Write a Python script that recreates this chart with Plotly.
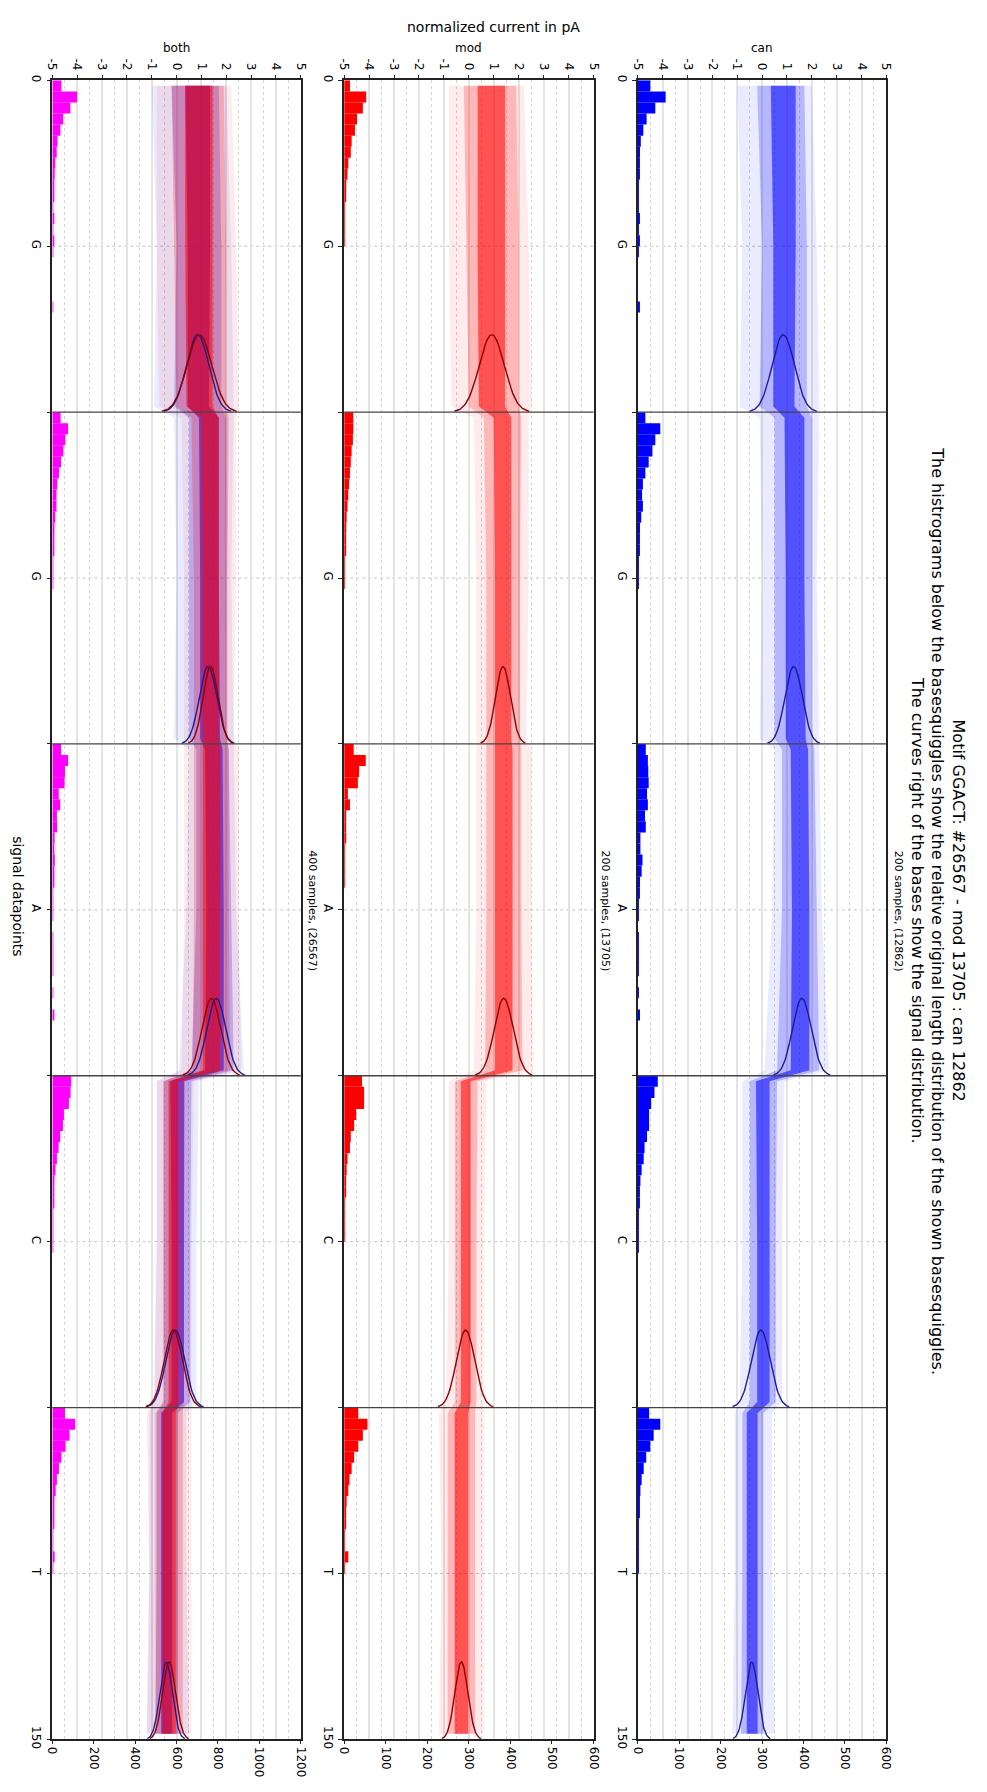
import numpy as np
import plotly.graph_objects as go

W, H = 987, 1792

# ---------------- data ----------------
bases = ["G", "G", "A", "C", "T"]
seg_len = 30
n_points = 150
panel_names = ["can", "mod", "both"]
panel_titles = ["200 samples, (12862)", "200 samples, (13705)", "400 samples, (26567)"]
title_lines = [
    "Motif GGACT: #26567 - mod 13705 : can 12862",
    "The histrograms below the basesquiggles show the relative original length distribution of the shown basesquiggles.",
    "The curves right of the bases show the signal distribution.",
]
x_ticks_current = [-5, -4, -3, -2, -1, 0, 1, 2, 3, 4, 5]
hist_ticks_single = [0, 100, 200, 300, 400, 500, 600]
hist_ticks_both = [0, 200, 400, 600, 800, 1000, 1200]

# squiggle band positions (signal datapoints): start, middle, end of each base
band_pos = [0.5, 15, 29.5, 30.5, 45, 59.5, 60.5, 75, 89.5, 90.5, 105, 119.5, 120.5, 135, 149.5]

can_outer_lo = [-1.0, -0.8, -0.9, -0.1, 0.0, -0.1, 0.5, 0.4, 0.1, -0.8, -0.8, -0.9, -1.1, -1.1, -1.2]
can_outer_hi = [2.0, 2.2, 2.3, 2.3, 2.2, 2.3, 2.3, 2.4, 2.7, 0.9, 0.8, 0.8, 0.4, 0.4, 0.5]
can_mid_lo = [-0.2, 0.0, -0.1, 0.5, 0.5, 0.5, 0.8, 0.8, 0.6, -0.5, -0.5, -0.5, -0.8, -0.8, -0.85]
can_mid_hi = [1.7, 1.8, 1.8, 2.0, 2.0, 2.0, 2.1, 2.2, 2.3, 0.6, 0.55, 0.55, 0.05, 0.05, 0.05]
can_core_lo = [0.35, 0.45, 0.45, 0.9, 0.95, 0.95, 1.15, 1.2, 1.15, -0.25, -0.2, -0.2, -0.62, -0.62, -0.62]
can_core_hi = [1.35, 1.35, 1.3, 1.7, 1.7, 1.75, 1.85, 1.9, 1.9, 0.3, 0.3, 0.3, -0.18, -0.18, -0.18]

mod_outer_lo = [-0.8, -0.8, -0.7, 0.2, 0.3, 0.3, 0.3, 0.3, 0.2, -0.8, -0.8, -0.9, -1.2, -1.1, -1.2]
mod_outer_hi = [2.2, 2.4, 2.5, 2.4, 2.4, 2.3, 2.5, 2.5, 2.6, 0.7, 0.6, 0.6, 0.6, 0.6, 0.6]
mod_mid_lo = [-0.2, -0.1, 0.0, 0.6, 0.7, 0.7, 0.7, 0.7, 0.65, -0.55, -0.55, -0.55, -0.85, -0.85, -0.85]
mod_mid_hi = [1.9, 2.0, 2.0, 2.1, 2.05, 2.05, 2.1, 2.1, 2.15, 0.35, 0.3, 0.3, 0.25, 0.25, 0.25]
mod_core_lo = [0.35, 0.35, 0.4, 1.0, 1.05, 1.05, 1.05, 1.05, 1.05, -0.32, -0.32, -0.32, -0.57, -0.57, -0.57]
mod_core_hi = [1.45, 1.45, 1.45, 1.7, 1.7, 1.7, 1.75, 1.75, 1.75, 0.07, 0.07, 0.07, -0.03, -0.03, -0.03]

# signal distribution per base (mean, std of normalized current)
can_mu = [0.85, 1.27, 1.6, -0.05, -0.42]
can_sd = [0.45, 0.35, 0.38, 0.38, 0.25]
mod_mu = [0.92, 1.37, 1.4, -0.13, -0.3]
mod_sd = [0.5, 0.3, 0.38, 0.37, 0.26]

# original length histogram counts, per base, from the base start onward
can_hist = [
    [30, 67, 42, 21, 13, 7, 5, 4, 3, 2, 2, 1, 3, 1, 4, 1, 0, 0, 0, 0, 4],
    [18, 54, 42, 35, 26, 18, 12, 10, 12, 8, 5, 4, 3, 2, 2, 1],
    [19, 24, 25, 26, 22, 24, 17, 19, 6, 6, 11, 9, 5, 3, 2, 1, 0, 1, 1, 1, 1, 0, 2, 0, 5],
    [48, 40, 32, 27, 27, 22, 16, 14, 9, 6, 4, 3, 2, 2, 1, 1],
    [27, 54, 38, 30, 20, 14, 9, 6, 4, 3, 2, 2, 1, 1, 1, 0],
]
mod_hist = [
    [14, 53, 45, 31, 26, 18, 16, 10, 8, 5, 3, 2, 2, 1, 1, 0],
    [22, 22, 21, 18, 16, 14, 12, 10, 8, 6, 5, 4, 3, 2, 2, 1],
    [23, 52, 36, 33, 9, 14, 5, 4, 5, 2, 1, 1, 1, 0, 0, 0],
    [43, 48, 48, 29, 24, 16, 14, 8, 6, 4, 3, 2, 2, 1, 1, 0],
    [34, 56, 45, 34, 24, 18, 13, 10, 6, 4, 3, 2, 2, 10, 1, 0],
]

# ---------------- styling ----------------
FONT = "DejaVu Sans"
BLUE, RED, MAGENTA = "#0000ff", "#ff0000", "#ff00ff"
CAN_CURVE, MOD_CURVE = "#1c1c8c", "#8b0000"
CURVE_HEIGHT = 7.0
TICK_SIZE = 12

def px(x):
    return x / W

def py(y):
    return 1 - y / H

panel_x = [(640, 892), (342, 595), (46, 298)]
y_dom = [py(1749), py(75)]


def seg_hist(segs):
    arr = np.zeros(n_points)
    for i, s in enumerate(segs):
        for j, v in enumerate(s):
            arr[i * seg_len + j] = v
    return arr

can_counts = seg_hist(can_hist)
mod_counts = seg_hist(mod_hist)
both_counts = can_counts + mod_counts
dp_centers = np.arange(n_points) + 0.5

fig = go.Figure()


def band(xa, ya, lo, hi, rgb, alpha):
    fig.add_trace(go.Scatter(
        x=list(lo) + list(hi)[::-1], y=band_pos + band_pos[::-1],
        fill="toself", fillcolor=f"rgba({rgb},{alpha})", mode="lines",
        line=dict(width=0), hoverinfo="skip", showlegend=False,
        xaxis=xa, yaxis=ya))


def squiggles(xa, ya, which):
    if which == "can":
        arrs, rgb = (can_outer_lo, can_outer_hi, can_mid_lo, can_mid_hi, can_core_lo, can_core_hi), "0,0,255"
    else:
        arrs, rgb = (mod_outer_lo, mod_outer_hi, mod_mid_lo, mod_mid_hi, mod_core_lo, mod_core_hi), "255,0,0"
    band(xa, ya, arrs[0], arrs[1], rgb, 0.08)
    band(xa, ya, arrs[2], arrs[3], rgb, 0.22)
    band(xa, ya, arrs[4], arrs[5], rgb, 0.55)


def curves(xa, ya, mus, sds, color):
    z = np.linspace(-3, 3, 61)
    for i, (m, s) in enumerate(zip(mus, sds)):
        base = (i + 1) * seg_len
        fig.add_trace(go.Scatter(
            x=m + s * z, y=base - CURVE_HEIGHT * np.exp(-0.5 * z ** 2),
            mode="lines", line=dict(color=color, width=1.4),
            hoverinfo="skip", showlegend=False, xaxis=xa, yaxis=ya))


panels = [
    ("can", can_counts, BLUE, 600, hist_ticks_single),
    ("mod", mod_counts, RED, 600, hist_ticks_single),
    ("both", both_counts, MAGENTA, 1200, hist_ticks_both),
]

shapes = []
annotations = []
layout_axes = {}
for k, (name, counts, hcol, hmax, hticks) in enumerate(panels):
    idx = k + 1
    xa = "x" if idx == 1 else f"x{idx}"
    ya = "y" if idx == 1 else f"y{idx}"
    ha = f"x{idx + 3}"
    if name in ("can", "both"):
        squiggles(xa, ya, "can")
    if name in ("mod", "both"):
        squiggles(xa, ya, "mod")
    if name in ("can", "both"):
        curves(xa, ya, can_mu, can_sd, CAN_CURVE)
    if name in ("mod", "both"):
        curves(xa, ya, mod_mu, mod_sd, MOD_CURVE)
    fig.add_trace(go.Bar(
        x=counts, y=dp_centers, orientation="h", width=1.0,
        marker=dict(color=hcol, line=dict(width=0)),
        hoverinfo="skip", showlegend=False, xaxis=ha, yaxis=ya))

    x0, x1 = panel_x[k]
    dom = [px(x0), px(x1)]
    xkey = "xaxis" if idx == 1 else f"xaxis{idx}"
    ykey = "yaxis" if idx == 1 else f"yaxis{idx}"
    layout_axes[xkey] = dict(
        domain=dom, anchor=ya, side="top", range=[-5, 5],
        tickvals=x_ticks_current, ticktext=[str(v) for v in x_ticks_current],
        tickangle=90, ticks="outside", ticklen=4, tickcolor="#222",
        tickfont=dict(size=TICK_SIZE, color="#000", family=FONT),
        showline=True, linecolor="#222", linewidth=1.5, mirror=True,
        showgrid=True, gridcolor="#e4e4e4", gridwidth=1.6, zeroline=False,
        minor=dict(dtick=0.5, tick0=0, showgrid=True, griddash="3px,3px",
                   gridcolor="#d4d4d4", gridwidth=1, ticks=""),
    )
    layout_axes[f"xaxis{idx + 3}"] = dict(
        overlaying=xa, anchor=ya, side="bottom", range=[0, hmax],
        tickvals=hticks, ticktext=[str(v) for v in hticks], tickangle=90,
        ticks="outside", ticklen=4, tickcolor="#222",
        tickfont=dict(size=TICK_SIZE, color="#000", family=FONT),
        showgrid=False, zeroline=False, showline=False,
    )
    yt = [0, 15, 30, 45, 60, 75, 90, 105, 120, 135, 150]
    ytt = ["0", bases[0], "", bases[1], "", bases[2], "", bases[3], "", bases[4], "150"]
    layout_axes[ykey] = dict(
        domain=y_dom, anchor=xa, range=[n_points, 0],
        tickvals=yt, ticktext=ytt, tickangle=90, ticks="outside", ticklen=4,
        tickcolor="#222", tickfont=dict(size=TICK_SIZE, color="#000", family=FONT),
        showline=True, linecolor="#222", linewidth=1.5, mirror=True,
        showgrid=False, zeroline=False,
    )
    # base center dashed lines and base boundaries
    for b in range(len(bases)):
        shapes.append(dict(type="line", xref=f"{xa} domain", yref=ya, x0=0, x1=1,
                           y0=b * seg_len + seg_len / 2, y1=b * seg_len + seg_len / 2,
                           line=dict(color="#c4c4c4", width=1, dash="3px,3px"), layer="below"))
    for b in range(1, len(bases)):
        shapes.append(dict(type="line", xref=f"{xa} domain", yref=ya, x0=0, x1=1,
                           y0=b * seg_len, y1=b * seg_len,
                           line=dict(color="#444", width=1.3), layer="above"))
    # panel label and subplot title
    annotations.append(dict(text=name, x=px((x0 + x1) / 2), y=py(42), xref="paper", yref="paper",
                            showarrow=False, font=dict(size=12, family=FONT, color="#000"),
                            xanchor="center", yanchor="middle"))
    annotations.append(dict(text=panel_titles[k], x=px(x1 + 12), y=py(913), xref="paper", yref="paper",
                            showarrow=False, textangle=90, font=dict(size=11, family=FONT, color="#000"),
                            xanchor="center", yanchor="middle"))

for i, (t, xpos) in enumerate(zip(title_lines, [965, 944, 923])):
    annotations.append(dict(text=t, x=px(xpos), y=py(913), xref="paper", yref="paper",
                            showarrow=False, textangle=90, font=dict(size=16, family=FONT, color="#000"),
                            xanchor="center", yanchor="middle"))
annotations.append(dict(text="normalized current in pA", x=px(493), y=py(21), xref="paper", yref="paper",
                        showarrow=False, font=dict(size=14, family=FONT, color="#000"),
                        xanchor="center", yanchor="middle"))
annotations.append(dict(text="signal datapoints", x=px(11), y=py(898), xref="paper", yref="paper",
                        showarrow=False, textangle=90, font=dict(size=14, family=FONT, color="#000"),
                        xanchor="center", yanchor="middle"))

fig.update_layout(
    width=W, height=H, margin=dict(l=0, r=0, t=0, b=0),
    paper_bgcolor="white", plot_bgcolor="white",
    font=dict(family=FONT, size=11, color="#000"),
    shapes=shapes, annotations=annotations, showlegend=False, barmode="overlay",
    **layout_axes,
)

fig.write_html("out.html")
